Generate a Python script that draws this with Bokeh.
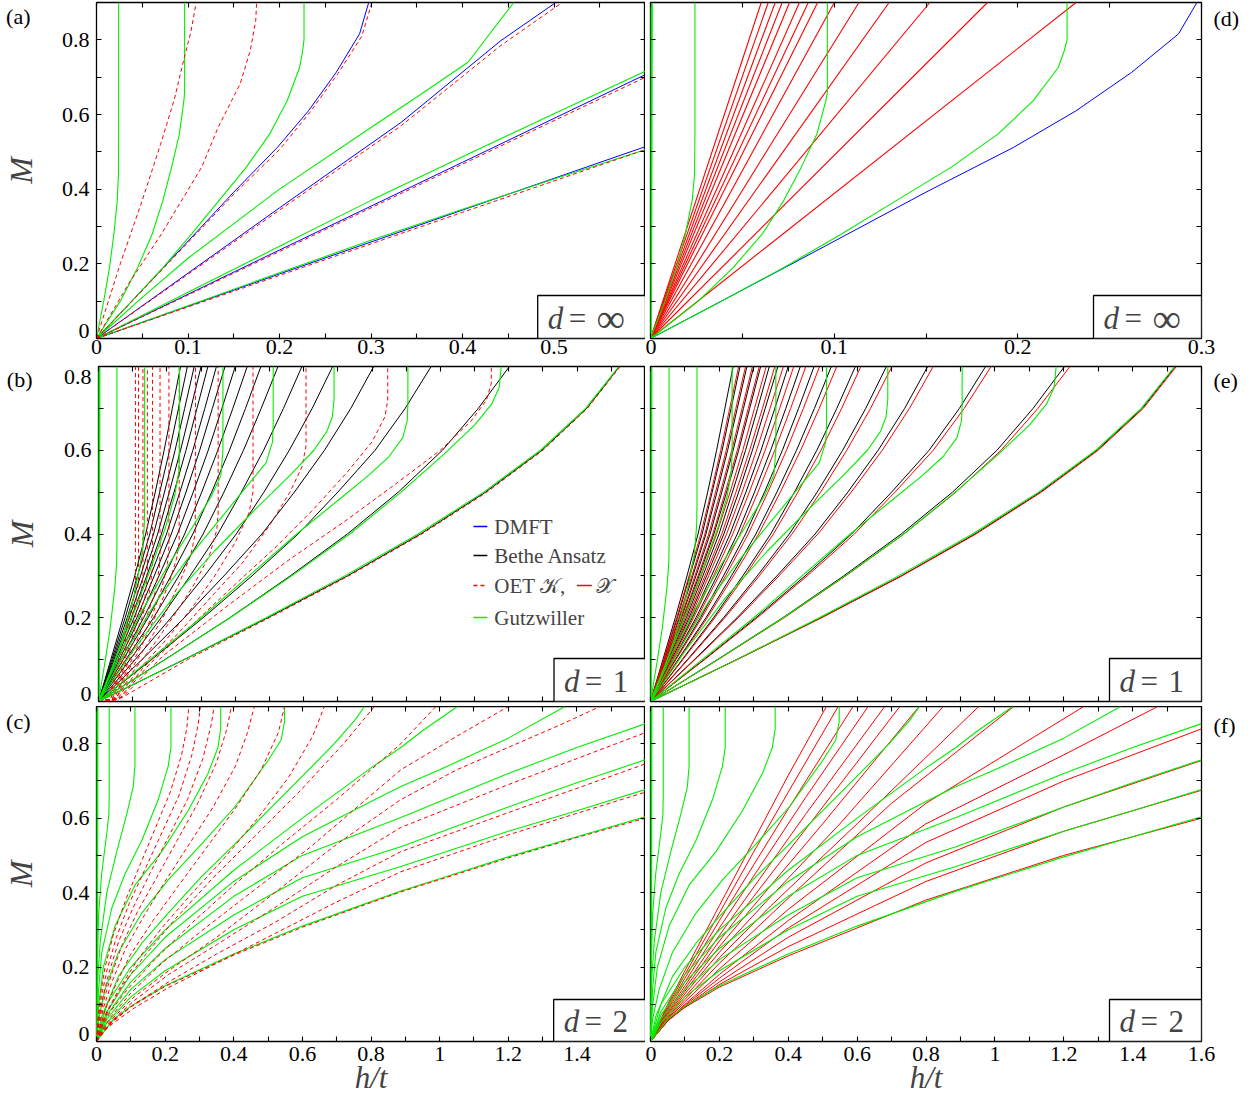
from bokeh.plotting import figure
from bokeh.layouts import column, row
from bokeh.models import Range1d, FixedTicker, LinearAxis, Label, BoxAnnotation
from bokeh.embed import file_html
from bokeh.resources import INLINE

SERIF = "Liberation Serif"
GREEN = "#00ee00"
RED = "#ff0000"
BLUE = "#0000ff"
BLACK = "#000000"
DASH = "4 3"

# ---------------- d = infinity (panels a and d) ----------------
# Gutzwiller curve hugging the M axis, (h/t, M) points
INF_GUTZWILLER_AXIS = [(0, 0), (0.0003, 0.3), (0.0005, 0.65), (0.0006, 0.9)]
# remaining Gutzwiller curves
INF_GUTZWILLER = [
    [(0, 0), (0.0079, 0.1), (0.0142, 0.19), (0.019, 0.28), (0.0227, 0.37), (0.024, 0.44), (0.0242, 0.55), (0.0242, 0.9)],
    [(0, 0), (0.026, 0.1), (0.045, 0.19), (0.0609, 0.28), (0.0726, 0.37), (0.0821, 0.459), (0.0906, 0.548),
     (0.0955, 0.637), (0.0963, 0.66), (0.0963, 0.9)],
    [(0, 0), (0.0386, 0.1), (0.0726, 0.19), (0.104, 0.28), (0.134, 0.37), (0.1638, 0.459), (0.1893, 0.548),
     (0.2084, 0.637), (0.222, 0.726), (0.2253, 0.771), (0.2268, 0.8), (0.2268, 0.9)],
    [(0, 0), (0.05, 0.11), (0.1, 0.215), (0.2, 0.4), (0.3, 0.565), (0.355, 0.655), (0.406, 0.74), (0.456, 0.9)],
    [(0, 0), (0.1, 0.124), (0.2, 0.247), (0.3, 0.37), (0.4, 0.487), (0.5, 0.602), (0.6, 0.716)],
    [(0, 0), (0.1, 0.088), (0.2, 0.176), (0.3, 0.263), (0.4, 0.346), (0.5, 0.427), (0.6, 0.506)],
]
INF_DMFT = [
    [(0, 0), (0.077, 0.2), (0.15, 0.392), (0.1977, 0.512), (0.2317, 0.61), (0.262, 0.713), (0.2875, 0.816), (0.2975, 0.9)],
    [(0, 0), (0.1, 0.175), (0.2, 0.35), (0.333, 0.579), (0.442, 0.798), (0.502, 0.9)],
    [(0, 0), (0.2, 0.237), (0.4, 0.472), (0.6, 0.707)],
    [(0, 0), (0.2, 0.173), (0.4, 0.344), (0.6, 0.514)],
]
INF_OET_K = [
    [(0, 0), (0.026, 0.2), (0.05, 0.37), (0.07, 0.52), (0.085, 0.64), (0.096, 0.753), (0.103, 0.82), (0.109, 0.9)],
    [(0, 0), (0.035, 0.146), (0.071, 0.28), (0.115, 0.459), (0.133, 0.566), (0.157, 0.682), (0.168, 0.771),
     (0.174, 0.851), (0.175, 0.9)],
    [(0, 0), (0.077, 0.198), (0.15, 0.386), (0.2, 0.506), (0.233, 0.605), (0.264, 0.71), (0.29, 0.81), (0.301, 0.9)],
    [(0, 0), (0.1, 0.172), (0.2, 0.344), (0.333, 0.57), (0.442, 0.785), (0.509, 0.9)],
    [(0, 0), (0.2, 0.233), (0.4, 0.467), (0.6, 0.70)],
    [(0, 0), (0.2, 0.169), (0.4, 0.338), (0.6, 0.506)],
]
# OET X curves are straight lines from the origin; h/t at which each reaches M = 0.9
INF_OET_X_H = [0.0603, 0.0641, 0.0679, 0.0717, 0.0757, 0.0811, 0.0859, 0.0910, 0.1001, 0.1135,
               0.1299, 0.1521, 0.1835, 0.2317]
INF_OET_X_M = 0.9

# ---------------- d = 1 (panels b and e) ----------------
M_1D = [0.0, 0.1, 0.2, 0.3, 0.4, 0.5, 0.6, 0.7, 0.8]
# Bethe Ansatz: h/t at each M of M_1D
BETHE_H = [
    [0, 0.036, 0.072, 0.106, 0.138, 0.166, 0.192, 0.216, 0.240],
    [0, 0.039, 0.078, 0.114, 0.150, 0.179, 0.208, 0.234, 0.260],
    [0, 0.042, 0.084, 0.123, 0.161, 0.193, 0.224, 0.252, 0.280],
    [0, 0.045, 0.090, 0.132, 0.173, 0.207, 0.240, 0.270, 0.300],
    [0, 0.048, 0.096, 0.141, 0.184, 0.221, 0.256, 0.288, 0.320],
    [0, 0.052, 0.104, 0.152, 0.199, 0.238, 0.276, 0.311, 0.345],
    [0, 0.056, 0.112, 0.163, 0.213, 0.256, 0.296, 0.333, 0.370],
    [0, 0.061, 0.121, 0.177, 0.231, 0.277, 0.321, 0.361, 0.400],
    [0, 0.066, 0.132, 0.193, 0.252, 0.302, 0.349, 0.393, 0.435],
    [0, 0.072, 0.145, 0.212, 0.276, 0.331, 0.383, 0.430, 0.475],
    [0, 0.080, 0.161, 0.235, 0.306, 0.367, 0.424, 0.476, 0.525],
    [0, 0.092, 0.183, 0.268, 0.349, 0.418, 0.483, 0.541, 0.595],
    [0, 0.107, 0.212, 0.310, 0.403, 0.484, 0.558, 0.625, 0.685],
    [0, 0.127, 0.251, 0.367, 0.478, 0.573, 0.661, 0.738, 0.805],
    [0, 0.155, 0.306, 0.449, 0.584, 0.700, 0.809, 0.897, 0.973],
    [0, 0.194, 0.384, 0.561, 0.728, 0.877, 1.006, 1.111, 1.202],
    [0, 0.250, 0.495, 0.728, 0.942, 1.132, 1.297, 1.428, 1.524],
]
# OET X (d = 1): h/t at each M of M_1D
OET_X_1D_H = [
    [0, 0.038, 0.076, 0.112, 0.146, 0.176, 0.204, 0.230, 0.256],
    [0, 0.041, 0.082, 0.120, 0.158, 0.189, 0.220, 0.248, 0.276],
    [0, 0.044, 0.088, 0.129, 0.169, 0.203, 0.236, 0.266, 0.296],
    [0, 0.047, 0.094, 0.138, 0.181, 0.217, 0.252, 0.284, 0.316],
    [0, 0.050, 0.100, 0.147, 0.192, 0.231, 0.268, 0.302, 0.336],
    [0, 0.054, 0.108, 0.158, 0.207, 0.248, 0.288, 0.325, 0.361],
    [0, 0.058, 0.116, 0.169, 0.221, 0.266, 0.308, 0.347, 0.386],
    [0, 0.063, 0.125, 0.183, 0.239, 0.287, 0.333, 0.375, 0.416],
    [0, 0.068, 0.136, 0.199, 0.260, 0.312, 0.361, 0.407, 0.451],
    [0, 0.074, 0.149, 0.218, 0.284, 0.341, 0.395, 0.444, 0.491],
    [0, 0.082, 0.165, 0.241, 0.314, 0.377, 0.436, 0.490, 0.541],
    [0, 0.094, 0.187, 0.274, 0.357, 0.428, 0.495, 0.555, 0.611],
    [0, 0.109, 0.216, 0.316, 0.411, 0.494, 0.570, 0.639, 0.701],
    [0, 0.129, 0.255, 0.373, 0.486, 0.583, 0.673, 0.752, 0.821],
    [0, 0.157, 0.310, 0.455, 0.592, 0.710, 0.821, 0.911, 0.989],
    [0, 0.196, 0.388, 0.567, 0.736, 0.887, 1.018, 1.125, 1.218],
    [0, 0.251, 0.497, 0.730, 0.945, 1.135, 1.300, 1.431, 1.527],
]
OET_K_1D = [
    [(0, 0), (0.03, 0.005), (0.05, 0.07), (0.07, 0.14), (0.09, 0.2), (0.104, 0.25), (0.108, 0.28), (0.108, 0.8)],
    [(0, 0), (0.03, 0.005), (0.055, 0.07), (0.077, 0.14), (0.097, 0.2), (0.112, 0.25), (0.117, 0.29), (0.117, 0.8)],
    [(0, 0), (0.035, 0.005), (0.06, 0.07), (0.085, 0.14), (0.107, 0.2), (0.124, 0.25), (0.13, 0.3), (0.13, 0.8)],
    [(0, 0), (0.035, 0.005), (0.065, 0.07), (0.093, 0.14), (0.117, 0.2), (0.136, 0.25), (0.143, 0.31), (0.143, 0.8)],
    [(0, 0), (0.04, 0.005), (0.07, 0.07), (0.1, 0.14), (0.127, 0.2), (0.149, 0.26), (0.158, 0.32), (0.158, 0.8)],
    [(0, 0), (0.04, 0.005), (0.075, 0.07), (0.11, 0.14), (0.14, 0.2), (0.165, 0.26), (0.178, 0.32), (0.18, 0.35),
     (0.18, 0.8)],
    [(0, 0), (0.045, 0.005), (0.08, 0.07), (0.12, 0.14), (0.155, 0.2), (0.185, 0.27), (0.202, 0.33), (0.206, 0.37),
     (0.206, 0.8)],
    [(0, 0), (0.045, 0.005), (0.085, 0.07), (0.13, 0.14), (0.17, 0.21), (0.205, 0.28), (0.228, 0.34), (0.236, 0.38),
     (0.236, 0.8)],
    [(0, 0), (0.05, 0.005), (0.09, 0.07), (0.145, 0.14), (0.195, 0.21), (0.24, 0.29), (0.27, 0.35), (0.283, 0.4),
     (0.284, 0.8)],
    [(0, 0), (0.05, 0.005), (0.1, 0.07), (0.165, 0.14), (0.225, 0.21), (0.28, 0.28), (0.325, 0.35), (0.346, 0.41),
     (0.35, 0.45), (0.35, 0.8)],
    [(0, 0), (0.055, 0.005), (0.11, 0.07), (0.19, 0.14), (0.27, 0.22), (0.34, 0.3), (0.4, 0.38), (0.44, 0.45),
     (0.452, 0.5), (0.452, 0.8)],
    [(0, 0), (0.06, 0.005), (0.13, 0.08), (0.23, 0.16), (0.33, 0.25), (0.42, 0.33), (0.5, 0.42), (0.56, 0.5),
     (0.595, 0.56), (0.607, 0.61), (0.607, 0.8)],
    [(0, 0), (0.06, 0.005), (0.15, 0.09), (0.27, 0.18), (0.4, 0.28), (0.52, 0.37), (0.63, 0.46), (0.73, 0.55),
     (0.8, 0.62), (0.838, 0.68), (0.846, 0.72), (0.846, 0.8)],
    [(0, 0), (0.07, 0.01), (0.19, 0.11), (0.38, 0.23), (0.56, 0.34), (0.72, 0.43), (0.87, 0.52), (1.0, 0.6),
     (1.09, 0.67), (1.135, 0.72), (1.149, 0.76), (1.149, 0.8)],
    [(0, 0), (0.07, 0.01), (0.26, 0.1), (0.5, 0.2), (0.732, 0.3), (0.946, 0.4), (1.136, 0.5), (1.3, 0.6),
     (1.43, 0.7), (1.526, 0.8)],
]
GUTZWILLER_1D_AXIS = [(0, 0), (0.001, 0.3), (0.002, 0.8)]
GUTZWILLER_1D = [
    [(0, 0), (0.019, 0.094), (0.034, 0.174), (0.0475, 0.27), (0.053, 0.33), (0.054, 0.38), (0.054, 0.8)],
    [(0, 0), (0.036, 0.07), (0.07, 0.15), (0.104, 0.253), (0.127, 0.35), (0.134, 0.42), (0.135, 0.47), (0.135, 0.8)],
    [(0, 0), (0.042, 0.086), (0.093, 0.19), (0.149, 0.309), (0.195, 0.413), (0.223, 0.492), (0.235, 0.55),
     (0.237, 0.6), (0.237, 0.8)],
    [(0, 0), (0.06, 0.11), (0.13, 0.22), (0.2, 0.32), (0.27, 0.41), (0.33, 0.49), (0.358, 0.54), (0.364, 0.6),
     (0.364, 0.8)],
    [(0, 0), (0.08, 0.12), (0.17, 0.24), (0.26, 0.34), (0.35, 0.43), (0.43, 0.51), (0.49, 0.57), (0.509, 0.62),
     (0.511, 0.66), (0.511, 0.8)],
    [(0, 0), (0.1, 0.12), (0.22, 0.25), (0.34, 0.36), (0.46, 0.46), (0.56, 0.54), (0.63, 0.6), (0.668, 0.645),
     (0.684, 0.68), (0.689, 0.72), (0.689, 0.8)],
    [(0, 0), (0.15, 0.1), (0.3, 0.2), (0.44, 0.3), (0.58, 0.4), (0.7, 0.48), (0.79, 0.54), (0.85, 0.585),
     (0.89, 0.63), (0.903, 0.67), (0.905, 0.71), (0.905, 0.8)],
    [(0, 0), (0.195, 0.1), (0.385, 0.2), (0.565, 0.3), (0.735, 0.4), (0.885, 0.5), (1.01, 0.59), (1.1, 0.66),
     (1.15, 0.71), (1.172, 0.75), (1.178, 0.8)],
    [(0, 0), (0.25, 0.1), (0.49, 0.2), (0.72, 0.3), (0.935, 0.4), (1.127, 0.5), (1.293, 0.6), (1.425, 0.7),
     (1.522, 0.8)],
]

# ---------------- d = 2 (panels c and f) ----------------
GUTZWILLER_2D_AXIS = [(0, 0), (0.001, 0.3), (0.002, 0.9)]
GUTZWILLER_2D = [
    [(0, 0), (0.002, 0.2), (0.006, 0.34), (0.015, 0.45), (0.03, 0.56), (0.036, 0.61), (0.037, 0.66), (0.037, 0.9)],
    [(0, 0), (0.003, 0.16), (0.011, 0.27), (0.03, 0.4), (0.059, 0.51), (0.088, 0.61), (0.107, 0.684), (0.112, 0.74),
     (0.112, 0.9)],
    [(0, 0), (0.006, 0.14), (0.0155, 0.24), (0.045, 0.36), (0.083, 0.45), (0.132, 0.54), (0.18, 0.65), (0.209, 0.74),
     (0.217, 0.79), (0.217, 0.9)],
    [(0, 0), (0.006, 0.095), (0.02, 0.2), (0.054, 0.31), (0.112, 0.42), (0.19, 0.51), (0.267, 0.62), (0.325, 0.72),
     (0.354, 0.79), (0.362, 0.84), (0.362, 0.9)],
    [(0, 0), (0.006, 0.06), (0.025, 0.14), (0.064, 0.24), (0.132, 0.345), (0.209, 0.434), (0.306, 0.53),
     (0.403, 0.63), (0.5, 0.755), (0.538, 0.81), (0.548, 0.86), (0.548, 0.9)],
    [(0, 0), (0.0155, 0.068), (0.064, 0.175), (0.132, 0.264), (0.209, 0.345), (0.306, 0.443), (0.403, 0.53),
     (0.5, 0.62), (0.597, 0.71), (0.693, 0.8), (0.752, 0.862), (0.781, 0.9)],
    [(0, 0), (0.03, 0.1), (0.1, 0.2), (0.2, 0.3), (0.4, 0.46), (0.6, 0.6), (0.8, 0.735), (0.887, 0.79),
     (0.95, 0.835), (1.052, 0.9)],
    [(0, 0), (0.03, 0.08), (0.1, 0.18), (0.2, 0.28), (0.4, 0.43), (0.6, 0.55), (0.8, 0.645), (0.887, 0.685),
     (1.0, 0.73), (1.2, 0.815), (1.365, 0.9)],
    [(0, 0), (0.03, 0.07), (0.1, 0.16), (0.2, 0.25), (0.4, 0.39), (0.6, 0.5), (0.887, 0.602), (1.2, 0.72),
     (1.4, 0.79), (1.6, 0.854)],
    [(0, 0), (0.03, 0.06), (0.1, 0.14), (0.2, 0.22), (0.4, 0.34), (0.6, 0.44), (0.887, 0.523), (1.2, 0.63),
     (1.4, 0.695), (1.6, 0.757)],
    [(0, 0), (0.03, 0.05), (0.1, 0.12), (0.2, 0.19), (0.4, 0.3), (0.6, 0.39), (0.887, 0.47), (1.2, 0.565),
     (1.4, 0.62), (1.6, 0.677)],
    [(0, 0), (0.05, 0.06), (0.1, 0.095), (0.2, 0.15), (0.4, 0.235), (0.6, 0.31), (0.887, 0.404), (1.0, 0.437),
     (1.2, 0.496), (1.4, 0.55), (1.6, 0.604)],
]
OET_K_2D = [
    [(0, 0), (0.004, 0.06), (0.012, 0.13), (0.025, 0.2), (0.05, 0.29), (0.085, 0.38), (0.125, 0.47), (0.17, 0.57),
     (0.215, 0.67), (0.248, 0.77), (0.263, 0.84), (0.269, 0.9)],
    [(0, 0), (0.005, 0.06), (0.014, 0.12), (0.03, 0.19), (0.058, 0.28), (0.095, 0.37), (0.14, 0.46), (0.19, 0.56),
     (0.24, 0.66), (0.278, 0.77), (0.296, 0.85), (0.303, 0.9)],
    [(0, 0), (0.006, 0.05), (0.016, 0.11), (0.035, 0.18), (0.065, 0.27), (0.107, 0.36), (0.155, 0.45), (0.21, 0.55),
     (0.265, 0.65), (0.31, 0.76), (0.334, 0.85), (0.343, 0.9)],
    [(0, 0), (0.007, 0.05), (0.018, 0.1), (0.04, 0.17), (0.075, 0.26), (0.12, 0.35), (0.175, 0.44), (0.235, 0.54),
     (0.295, 0.64), (0.35, 0.75), (0.38, 0.84), (0.393, 0.9)],
    [(0, 0), (0.008, 0.045), (0.02, 0.09), (0.045, 0.16), (0.085, 0.25), (0.14, 0.34), (0.2, 0.43), (0.27, 0.53),
     (0.34, 0.63), (0.405, 0.74), (0.44, 0.83), (0.46, 0.9)],
    [(0, 0), (0.01, 0.04), (0.025, 0.085), (0.055, 0.15), (0.1, 0.235), (0.165, 0.325), (0.24, 0.42), (0.32, 0.52),
     (0.4, 0.62), (0.48, 0.73), (0.53, 0.83), (0.548, 0.9)],
    [(0, 0), (0.012, 0.04), (0.03, 0.08), (0.065, 0.14), (0.12, 0.22), (0.19, 0.305), (0.28, 0.4), (0.37, 0.49),
     (0.47, 0.6), (0.56, 0.71), (0.63, 0.82), (0.664, 0.9)],
    [(0, 0), (0.014, 0.04), (0.035, 0.085), (0.075, 0.15), (0.14, 0.23), (0.23, 0.33), (0.34, 0.44), (0.46, 0.55),
     (0.59, 0.67), (0.72, 0.8), (0.81, 0.9)],
    [(0, 0), (0.016, 0.04), (0.04, 0.08), (0.09, 0.14), (0.17, 0.22), (0.28, 0.32), (0.4, 0.42), (0.54, 0.53),
     (0.7, 0.65), (0.887, 0.8), (0.989, 0.9)],
    [(0, 0), (0.018, 0.035), (0.045, 0.07), (0.1, 0.13), (0.19, 0.21), (0.31, 0.3), (0.45, 0.4), (0.62, 0.52),
     (0.887, 0.73), (1.05, 0.82), (1.2, 0.9)],
    [(0, 0), (0.02, 0.033), (0.05, 0.065), (0.11, 0.12), (0.21, 0.19), (0.35, 0.28), (0.52, 0.4), (0.7, 0.53),
     (0.887, 0.65), (1.05, 0.73), (1.2, 0.79), (1.35, 0.85), (1.468, 0.9)],
    [(0, 0), (0.02, 0.03), (0.05, 0.06), (0.11, 0.11), (0.21, 0.18), (0.35, 0.26), (0.52, 0.36), (0.7, 0.47),
     (0.887, 0.575), (1.2, 0.69), (1.4, 0.76), (1.6, 0.83)],
    [(0, 0), (0.02, 0.03), (0.05, 0.055), (0.11, 0.1), (0.21, 0.16), (0.35, 0.235), (0.52, 0.32), (0.7, 0.42),
     (0.887, 0.51), (1.2, 0.615), (1.4, 0.68), (1.6, 0.746)],
    [(0, 0), (0.02, 0.028), (0.05, 0.05), (0.11, 0.09), (0.21, 0.145), (0.35, 0.21), (0.52, 0.29), (0.7, 0.375),
     (0.887, 0.456), (1.2, 0.555), (1.4, 0.613), (1.6, 0.67)],
    [(0, 0), (0.05, 0.058), (0.1, 0.093), (0.2, 0.148), (0.4, 0.232), (0.6, 0.307), (0.887, 0.402), (1.0, 0.435),
     (1.2, 0.493), (1.4, 0.548), (1.6, 0.6)],
]
OET_X_2D = [
    [(0, 0), (0.05, 0.1), (0.1, 0.19), (0.2, 0.365), (0.3, 0.54), (0.4, 0.715), (0.511, 0.9)],
    [(0, 0), (0.05, 0.095), (0.1, 0.18), (0.2, 0.345), (0.3, 0.51), (0.4, 0.67), (0.545, 0.9)],
    [(0, 0), (0.05, 0.09), (0.1, 0.17), (0.2, 0.325), (0.3, 0.475), (0.4, 0.625), (0.588, 0.9)],
    [(0, 0), (0.05, 0.085), (0.1, 0.16), (0.2, 0.305), (0.3, 0.445), (0.45, 0.655), (0.632, 0.9)],
    [(0, 0), (0.05, 0.08), (0.1, 0.15), (0.2, 0.285), (0.3, 0.415), (0.45, 0.61), (0.68, 0.9)],
    [(0, 0), (0.05, 0.076), (0.1, 0.142), (0.2, 0.27), (0.3, 0.39), (0.5, 0.63), (0.724, 0.9)],
    [(0, 0), (0.05, 0.072), (0.1, 0.135), (0.2, 0.255), (0.3, 0.365), (0.5, 0.585), (0.78, 0.9)],
    [(0, 0), (0.05, 0.068), (0.1, 0.128), (0.2, 0.24), (0.35, 0.39), (0.55, 0.585), (0.85, 0.9)],
    [(0, 0), (0.05, 0.064), (0.1, 0.12), (0.2, 0.225), (0.35, 0.365), (0.6, 0.585), (0.953, 0.9)],
    [(0, 0), (0.05, 0.061), (0.1, 0.113), (0.2, 0.21), (0.4, 0.385), (0.7, 0.64), (1.055, 0.9)],
    [(0, 0), (0.05, 0.058), (0.1, 0.107), (0.2, 0.195), (0.4, 0.355), (0.8, 0.64), (1.258, 0.9)],
    [(0, 0), (0.05, 0.056), (0.1, 0.1), (0.2, 0.18), (0.4, 0.325), (0.8, 0.585), (1.2, 0.77), (1.473, 0.9)],
    [(0, 0), (0.05, 0.055), (0.1, 0.097), (0.2, 0.17), (0.4, 0.305), (0.8, 0.535), (1.2, 0.7), (1.6, 0.84)],
    [(0, 0), (0.05, 0.055), (0.1, 0.094), (0.2, 0.16), (0.4, 0.28), (0.8, 0.48), (1.2, 0.63), (1.6, 0.755)],
    [(0, 0), (0.05, 0.056), (0.1, 0.092), (0.2, 0.153), (0.4, 0.255), (0.8, 0.43), (1.2, 0.565), (1.6, 0.675)],
    [(0, 0), (0.05, 0.058), (0.1, 0.092), (0.2, 0.146), (0.4, 0.23), (0.8, 0.38), (1.2, 0.5), (1.6, 0.60)],
]

# ---------------- axes: tick marks and tick labels ----------------
X_MARKS_INF_WIDE = [0, 0.05, 0.1, 0.15, 0.2, 0.25, 0.3, 0.35, 0.4, 0.45, 0.5, 0.55, 0.6]
X_LABELS_INF_WIDE = {0: "0", 0.1: "0.1", 0.2: "0.2", 0.3: "0.3", 0.4: "0.4", 0.5: "0.5"}
X_MARKS_INF_NARROW = [0, 0.05, 0.1, 0.15, 0.2, 0.25, 0.3]
X_LABELS_INF_NARROW = {0: "0", 0.1: "0.1", 0.2: "0.2", 0.3: "0.3"}
X_MARKS_H = [0, 0.1, 0.2, 0.3, 0.4, 0.5, 0.6, 0.7, 0.8, 0.9, 1, 1.1, 1.2, 1.3, 1.4, 1.5, 1.6]
X_LABELS_H_LEFT = {0: "0", 0.2: "0.2", 0.4: "0.4", 0.6: "0.6", 0.8: "0.8", 1: "1", 1.2: "1.2", 1.4: "1.4"}
X_LABELS_H_RIGHT = {0: "0", 0.2: "0.2", 0.4: "0.4", 0.6: "0.6", 0.8: "0.8", 1: "1", 1.2: "1.2", 1.4: "1.4",
                    1.6: "1.6"}
Y_MARKS_09 = [0, 0.1, 0.2, 0.3, 0.4, 0.5, 0.6, 0.7, 0.8, 0.9]
Y_MARKS_08 = [0, 0.1, 0.2, 0.3, 0.4, 0.5, 0.6, 0.7, 0.8]
# labels at the ends of the M axis sit slightly inside the frame
Y_LABELS_09 = {0.021: "0", 0.2: "0.2", 0.4: "0.4", 0.6: "0.6", 0.8: "0.8"}
Y_LABELS_08 = {0.019: "0", 0.2: "0.2", 0.4: "0.4", 0.6: "0.6", 0.774: "0.8"}

# frame placement on the page (pixels)
COLS = {"L": dict(left=95, fw=550, bl=95, br=0), "R": dict(left=650, fw=551, bl=5, br=49)}
ROWS = [dict(top=2, fh=336, bt=2, bb=26, xstand=1), dict(top=366, fh=335, bt=2, bb=5, xstand=0),
        dict(top=706, fh=335, bt=0, bb=62, xstand=5)]


def style_axis(ax, marks, labels=None, standoff=3):
    ax.ticker = FixedTicker(ticks=sorted(labels) if labels else [], minor_ticks=marks)
    ax.axis_line_color = None
    ax.major_tick_in = 0
    ax.major_tick_out = 0
    ax.minor_tick_in = 5
    ax.minor_tick_out = 0
    ax.minor_tick_line_width = 1.1
    ax.minor_tick_line_color = "black"
    if labels:
        ax.major_label_overrides = labels
        ax.major_label_text_font = SERIF
        ax.major_label_text_font_size = "22px"
        ax.major_label_text_color = "black"
        ax.major_label_standoff = standoff


def tag_axis(p, side, tag, m_pos, standoff, ytitle=None):
    ax = LinearAxis(ticker=FixedTicker(ticks=[m_pos], minor_ticks=[]), major_label_overrides={m_pos: tag})
    ax.axis_line_color = None
    ax.major_tick_in = 0
    ax.major_tick_out = 0
    ax.major_label_text_font = SERIF
    ax.major_label_text_font_size = "22px"
    ax.major_label_text_color = "black"
    ax.major_label_standoff = standoff
    if ytitle:
        ax.axis_label = ytitle
        ax.axis_label_text_font = SERIF
        ax.axis_label_text_font_style = "italic"
        ax.axis_label_text_font_size = "32px"
        ax.axis_label_standoff = -36
    p.add_layout(ax, side)


def make_panel(col, r, xr, yr, xmarks, ymarks, xlabels, ylabels, xtitle=None):
    c, rw = COLS[col], ROWS[r]
    p = figure(width=c["bl"] + c["fw"] + c["br"], height=rw["bt"] + rw["fh"] + rw["bb"],
               x_range=Range1d(*xr), y_range=Range1d(*yr), output_backend="svg", toolbar_location=None,
               min_border_left=c["bl"], min_border_right=c["br"],
               min_border_top=rw["bt"], min_border_bottom=rw["bb"])
    p.grid.visible = False
    p.outline_line_color = "black"
    p.outline_line_width = 1.3
    p.background_fill_color = "white"
    p.border_fill_color = "white"
    bottom, left = p.below[0], p.left[0]
    top, right = LinearAxis(), LinearAxis()
    p.add_layout(top, "above")
    p.add_layout(right, "right")
    style_axis(bottom, xmarks, xlabels, standoff=rw["xstand"])
    style_axis(top, xmarks)
    style_axis(left, ymarks, ylabels, standoff=7)
    style_axis(right, ymarks)
    if xtitle:
        bottom.axis_label = xtitle
        bottom.axis_label_text_font = SERIF
        bottom.axis_label_text_font_style = "italic"
        bottom.axis_label_text_font_size = "31px"
        bottom.axis_label_standoff = -4
    geom = dict(left=c["left"], fw=c["fw"], top=rw["top"], fh=rw["fh"], xr=xr, yr=yr)
    return p, geom


def to_data(g, px, py):
    (x0, x1), (y0, y1) = g["xr"], g["yr"]
    return (x0 + (px - g["left"]) * (x1 - x0) / g["fw"],
            y1 - (py - g["top"]) * (y1 - y0) / g["fh"])


def draw(p, curves, color, dash="solid", width=1.0):
    p.multi_line(xs=[[pt[0] for pt in c] for c in curves], ys=[[pt[1] for pt in c] for c in curves],
                 line_color=color, line_width=width, line_dash=dash)


def on_levels(h_lists, levels):
    return [list(zip(h, levels)) for h in h_lists]


def dim_box(p, g, box_px, mid_py, value, value_size):
    """White framed box in the lower right corner holding 'd = value'."""
    xl, yt = to_data(g, box_px[0], box_px[1])
    p.add_layout(BoxAnnotation(left=xl, right=g["xr"][1], bottom=g["yr"][0], top=yt,
                               fill_color="white", fill_alpha=1.0, line_color="black", line_alpha=1.0,
                               line_width=1.3))
    for dx, text, style, size in [(10, "d", "italic", "31px"), (31, "=", "normal", "31px"),
                                  (59, value, "normal", value_size)]:
        x, y = to_data(g, box_px[0] + dx, mid_py)
        p.add_layout(Label(x=x, y=y, text=text, text_font=SERIF, text_font_style=style,
                           text_font_size=size, text_baseline="middle"))


# (a) d = infinity, wide field range
pa, ga = make_panel("L", 0, (0, 0.6), (0, 0.9), X_MARKS_INF_WIDE, Y_MARKS_09, X_LABELS_INF_WIDE, Y_LABELS_09)
tag_axis(pa, "left", "(a)", 0.8625, 28, ytitle="M")
draw(pa, INF_DMFT, BLUE)
draw(pa, INF_GUTZWILLER, GREEN, width=1.1)
draw(pa, INF_OET_K, RED, dash=DASH)
dim_box(pa, ga, (537, 295), 318, "\u221e", "40px")

# (d) d = infinity, low fields
pd_, gd = make_panel("R", 0, (0, 0.3), (0, 0.9), X_MARKS_INF_NARROW, Y_MARKS_09, X_LABELS_INF_NARROW, None)
tag_axis(pd_, "right", "(d)", 0.857, 12)
draw(pd_, INF_DMFT[:1], BLUE)
n_x = len(INF_OET_X_H)
pd_.segment(x0=[0] * n_x, y0=[0] * n_x, x1=INF_OET_X_H, y1=[INF_OET_X_M] * n_x,
            line_color=RED, line_width=1.1, line_cap="round")
draw(pd_, INF_GUTZWILLER[:3], GREEN, width=1.1)
draw(pd_, [INF_GUTZWILLER_AXIS], GREEN, width=2.5)
dim_box(pd_, gd, (1093, 295), 318, "\u221e", "40px")

# (b) d = 1 with OET K
pb, gb = make_panel("L", 1, (0, 1.6), (0, 0.8), X_MARKS_H, Y_MARKS_08, None, Y_LABELS_08)
tag_axis(pb, "left", "(b)", 0.769, 28, ytitle="M")
draw(pb, on_levels(BETHE_H, M_1D), BLACK)
draw(pb, OET_K_1D, RED, dash=DASH)
draw(pb, GUTZWILLER_1D, GREEN, width=1.1)
draw(pb, [GUTZWILLER_1D_AXIS], GREEN, width=2.5)
dim_box(pb, gb, (553, 658), 681, "1", "31px")

# legend of the whole figure, inside (b)
LEGEND_ROWS = [(526, BLUE, "solid", "DMFT"), (555, BLACK, "solid", "Bethe Ansatz"),
               (585, RED, DASH, "OET \U0001D4A6,"), (617, GREEN, "solid", "Gutzwiller")]
for py, colr, dsh, txt in LEGEND_ROWS:
    x0, y0 = to_data(gb, 472, py)
    x1, _ = to_data(gb, 486, py)
    pb.line([x0, x1], [y0, y0], line_color=colr, line_dash=dsh, line_width=1.3)
    tx, ty = to_data(gb, 493, py)
    pb.add_layout(Label(x=tx, y=ty, text=txt, text_font=SERIF, text_font_size="21px", text_baseline="middle"))
x0, y0 = to_data(gb, 576, 585)
x1, _ = to_data(gb, 591, 585)
pb.line([x0, x1], [y0, y0], line_color=RED, line_width=1.3)
tx, ty = to_data(gb, 595, 585)
pb.add_layout(Label(x=tx, y=ty, text="\U0001D4B3", text_font=SERIF, text_font_size="21px", text_baseline="middle"))

# (e) d = 1 with OET X
pe, ge = make_panel("R", 1, (0, 1.6), (0, 0.8), X_MARKS_H, Y_MARKS_08, None, None)
tag_axis(pe, "right", "(e)", 0.767, 12)
draw(pe, on_levels(BETHE_H, M_1D), BLACK)
draw(pe, on_levels(OET_X_1D_H, M_1D), RED)
draw(pe, GUTZWILLER_1D, GREEN, width=1.1)
draw(pe, [GUTZWILLER_1D_AXIS], GREEN, width=2.5)
dim_box(pe, ge, (1109, 658), 681, "1", "31px")

# (c) d = 2 with OET K
pc, gc = make_panel("L", 2, (0, 1.6), (0, 0.9), X_MARKS_H, Y_MARKS_09, X_LABELS_H_LEFT, Y_LABELS_09,
                    xtitle="h/t")
tag_axis(pc, "left", "(c)", 0.86, 28, ytitle="M")
draw(pc, GUTZWILLER_2D, GREEN, width=1.1)
draw(pc, [GUTZWILLER_2D_AXIS], GREEN, width=2.5)
draw(pc, OET_K_2D, RED, dash=DASH)
dim_box(pc, gc, (553, 999), 1021, "2", "31px")

# (f) d = 2 with OET X
pf, gf = make_panel("R", 2, (0, 1.6), (0, 0.9), X_MARKS_H, Y_MARKS_09, X_LABELS_H_RIGHT, None, xtitle="h/t")
tag_axis(pf, "right", "(f)", 0.849, 12)
draw(pf, OET_X_2D, RED)
draw(pf, GUTZWILLER_2D, GREEN, width=1.1)
draw(pf, [GUTZWILLER_2D_AXIS], GREEN, width=2.5)
dim_box(pf, gf, (1109, 999), 1021, "2", "31px")

layout = column(row(pa, pd_), row(pb, pe), row(pc, pf))
open("out.html", "w").write(file_html(layout, INLINE))
